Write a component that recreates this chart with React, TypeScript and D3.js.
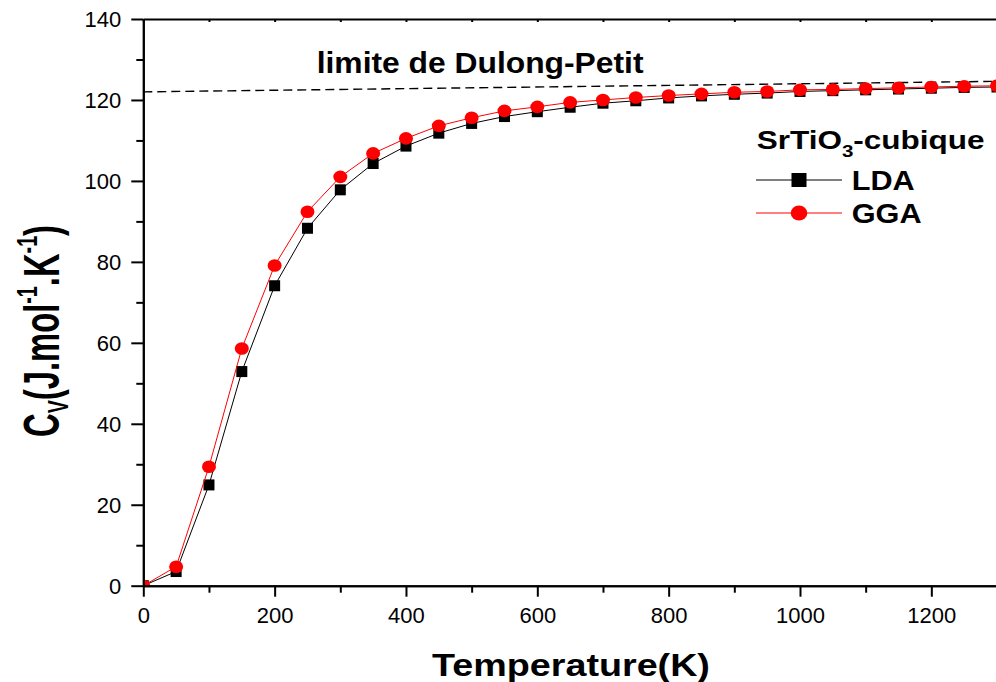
import React, { useEffect, useRef } from 'react';
import * as d3 from 'd3';

// Temperature grid (K)
const temps = [0, 50, 100, 150, 200, 250, 300, 350, 400, 450, 500, 550, 600, 650, 700, 750, 800, 850, 900, 950, 1000, 1050, 1100, 1150, 1200, 1250, 1300];
// Cv values (J.mol-1.K-1)
const ldaCv = [0, 3.5, 24.9, 52.9, 74.1, 88.3, 97.8, 104.3, 108.6, 111.8, 114.2, 115.9, 117.1, 118.2, 119.2, 119.8, 120.5, 121.0, 121.4, 121.7, 122.1, 122.3, 122.5, 122.7, 122.9, 123.1, 123.2];
const ggaCv = [0, 4.7, 29.4, 58.6, 79.1, 92.4, 101.0, 106.8, 110.5, 113.6, 115.6, 117.3, 118.3, 119.4, 120.0, 120.6, 121.1, 121.5, 121.9, 122.1, 122.5, 122.6, 122.8, 123.0, 123.2, 123.4, 123.5];
// Dulong-Petit limit, end points
const dulongT = [0, 1300];
const dulongCv = [122.0, 124.6];

const yTicks = [0, 20, 40, 60, 80, 100, 120, 140];
const xTicks = [0, 200, 400, 600, 800, 1000, 1200];

const FONT = '"Liberation Sans", Arial, sans-serif';

export default function App() {
  const ref = useRef<SVGSVGElement>(null);

  useEffect(() => {
    const W = 996;
    const H = 682;
    const svg = d3.select(ref.current);
    svg.selectAll('*').remove();

    const x = d3.scaleLinear().domain([0, 1300]).range([143.3, 997]);
    const y = d3.scaleLinear().domain([0, 140]).range([585.7, 19]);

    // clip for plot area
    svg
      .append('defs')
      .append('clipPath')
      .attr('id', 'plot')
      .append('rect')
      .attr('x', x(0))
      .attr('y', y(140))
      .attr('width', W - x(0))
      .attr('height', y(0) - y(140));

    const plot = svg.append('g').attr('clip-path', 'url(#plot)');

    // Dulong-Petit dashed line
    plot
      .append('line')
      .attr('x1', x(dulongT[0]))
      .attr('y1', y(dulongCv[0]))
      .attr('x2', x(dulongT[1]))
      .attr('y2', y(dulongCv[1]))
      .attr('stroke', '#000')
      .attr('stroke-width', 1.4)
      .attr('stroke-dasharray', '9,5');

    const line = d3
      .line<number>()
      .x((d, i) => x(temps[i]))
      .y(d => y(d));

    // LDA series
    plot
      .append('path')
      .attr('d', line(ldaCv))
      .attr('fill', 'none')
      .attr('stroke', '#000')
      .attr('stroke-width', 1);
    plot
      .selectAll('.sq')
      .data(ldaCv)
      .enter()
      .append('rect')
      .attr('x', (d, i) => x(temps[i]) - 5.5)
      .attr('y', d => y(d) - 5.5)
      .attr('width', 11)
      .attr('height', 11)
      .attr('fill', '#000');

    // GGA series
    plot
      .append('path')
      .attr('d', line(ggaCv))
      .attr('fill', 'none')
      .attr('stroke', '#ff0000')
      .attr('stroke-width', 1);
    plot
      .selectAll('.ci')
      .data(ggaCv)
      .enter()
      .append('ellipse')
      .attr('cx', (d, i) => x(temps[i]))
      .attr('cy', d => y(d))
      .attr('rx', 7)
      .attr('ry', 6.3)
      .attr('fill', '#ff0000');

    // Axes
    const styleAxis = (g: any) => {
      g.selectAll('path').attr('stroke', '#000').attr('stroke-width', 2);
      g.selectAll('line').attr('stroke', '#000').attr('stroke-width', 2);
      g.selectAll('text').attr('font-family', FONT).attr('font-size', 22).attr('fill', '#000');
    };

    const leftMinor = svg
      .append('g')
      .attr('transform', `translate(${x(0)},0)`)
      .call(d3.axisLeft(y).tickValues(d3.range(10, 140, 20)).tickSize(7).tickSizeOuter(0).tickFormat(() => ''));
    styleAxis(leftMinor);

    const left = svg
      .append('g')
      .attr('transform', `translate(${x(0)},0)`)
      .call(d3.axisLeft(y).tickValues(yTicks).tickSize(12).tickSizeOuter(0).tickPadding(10).tickFormat(d3.format('d')));
    styleAxis(left);
    left.selectAll('text').attr('dy', '0.35em');

    const bottomMinor = svg
      .append('g')
      .attr('transform', `translate(0,${y(0)})`)
      .call(d3.axisBottom(x).tickValues(d3.range(100, 1400, 200)).tickSize(7).tickSizeOuter(0).tickFormat(() => ''));
    styleAxis(bottomMinor);

    const bottom = svg
      .append('g')
      .attr('transform', `translate(0,${y(0)})`)
      .call(d3.axisBottom(x).tickValues(xTicks).tickSize(11).tickSizeOuter(0).tickPadding(11).tickFormat(d3.format('d')));
    styleAxis(bottom);
    bottom.selectAll('text').attr('dy', '0.71em');

    const top = svg
      .append('g')
      .attr('transform', `translate(0,${y(140)})`)
      .call(d3.axisTop(x).tickValues(d3.range(0, 1400, 100)).tickSize(-3).tickSizeOuter(0).tickFormat(() => ''));
    styleAxis(top);

    // fit a text element to a target length along its own direction
    const fit = (t: any, len: number, tr: string) => {
      const w = (t.node() as SVGTextElement).getBBox().width;
      t.attr('transform', `${tr} scale(${len / w},1)`);
    };

    // Dulong-Petit label
    const dl = svg
      .append('text')
      .attr('font-family', FONT)
      .attr('font-weight', 'bold')
      .attr('font-size', 30)
      .text('limite de Dulong-Petit');
    fit(dl, 327, 'translate(316.7,73.3)');

    // legend
    const lt = svg
      .append('text')
      .attr('font-family', FONT)
      .attr('font-weight', 'bold')
      .attr('font-size', 26);
    lt.append('tspan').text('SrTiO');
    lt.append('tspan').attr('font-size', 17).attr('dy', 8).text('3');
    lt.append('tspan').attr('dy', -8).text('-cubique');
    fit(lt, 228, 'translate(756.7,148.5)');

    const legendItems = [
      { name: 'LDA', color: '#000', shape: 'square', y: 180 },
      { name: 'GGA', color: '#ff0000', shape: 'circle', y: 213 },
    ];
    legendItems.forEach(item => {
      svg
        .append('line')
        .attr('x1', 756)
        .attr('x2', 842)
        .attr('y1', item.y)
        .attr('y2', item.y)
        .attr('stroke', item.color)
        .attr('stroke-width', 1);
      if (item.shape === 'square') {
        svg
          .append('rect')
          .attr('x', 799 - 7.5)
          .attr('y', item.y - 7)
          .attr('width', 15)
          .attr('height', 14)
          .attr('fill', item.color);
      } else {
        svg
          .append('ellipse')
          .attr('cx', 799)
          .attr('cy', item.y)
          .attr('rx', 8.3)
          .attr('ry', 7.5)
          .attr('fill', item.color);
      }
      const t = svg
        .append('text')
        .attr('font-family', FONT)
        .attr('font-weight', 'bold')
        .attr('font-size', 28)
        .text(item.name);
      fit(t, item.name === 'LDA' ? 63 : 70, `translate(851.7,${item.y + 9.5})`);
    });

    // x axis title
    const xt = svg
      .append('text')
      .attr('font-family', FONT)
      .attr('font-weight', 'bold')
      .attr('font-size', 31)
      .attr('text-anchor', 'middle')
      .text('Temperature(K)');
    fit(xt, 278, 'translate(571,676)');

    // y axis title
    const yt = svg
      .append('text')
      .attr('font-family', FONT)
      .attr('font-weight', 'bold')
      .attr('font-size', 50)
      .attr('text-anchor', 'middle');
    yt.append('tspan').text('C');
    yt.append('tspan').attr('font-size', 30).attr('dy', 9).text('V');
    yt.append('tspan').attr('dy', -9).text('(J.mol');
    yt.append('tspan').attr('font-size', 30).attr('dy', -22).text('-1');
    yt.append('tspan').attr('dy', 22).text('.K');
    yt.append('tspan').attr('font-size', 30).attr('dy', -22).text('-1');
    yt.append('tspan').attr('dy', 22).text(')');
    fit(yt, 212, 'translate(59,331) rotate(-90)');

    svg.attr('width', W).attr('height', H);
  }, []);

  return (
    <svg
      ref={ref}
      width={996}
      height={682}
      style={{ position: 'absolute', left: 0, top: 0, background: '#fff' }}
    />
  );
}
